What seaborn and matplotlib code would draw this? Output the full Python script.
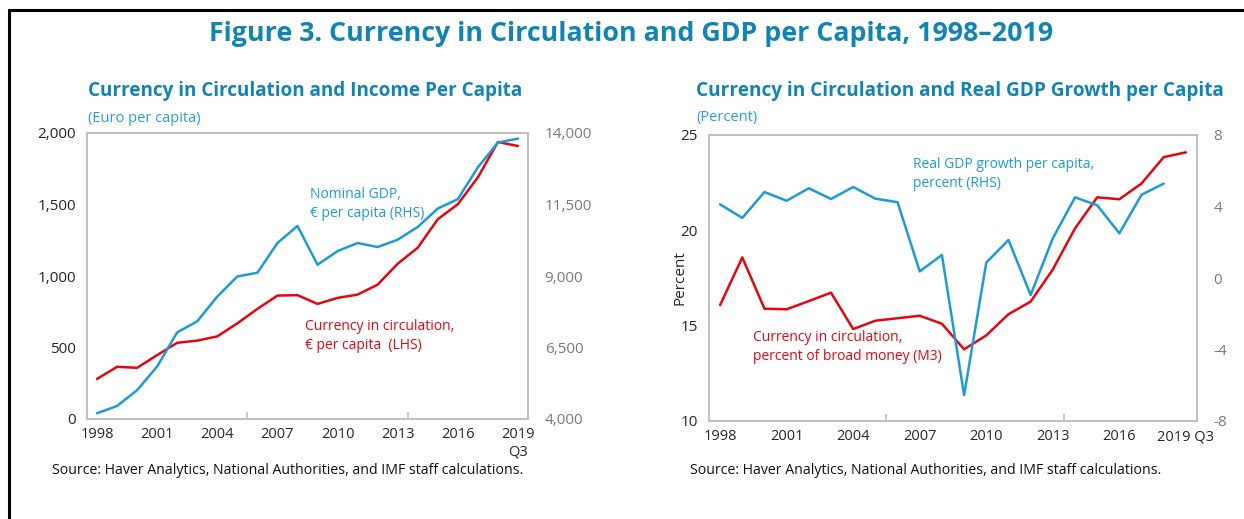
import numpy as np
import pandas as pd
import matplotlib
matplotlib.use("Agg")
import matplotlib.pyplot as plt
from matplotlib.lines import Line2D
import seaborn as sns

# ---------------- data ----------------
years = ["1998", "1999", "2000", "2001", "2002", "2003", "2004", "2005", "2006", "2007",
         "2008", "2009", "2010", "2011", "2012", "2013", "2014", "2015", "2016", "2017",
         "2018", "2019 Q3"]
tick_years_left = ["1998", "2001", "2004", "2007", "2010", "2013", "2016", "2019\nQ3"]
tick_years_right = ["1998", "2001", "2004", "2007", "2010", "2013", "2016", "2019 Q3"]

# Left panel
currency_pc = [280, 365, 358, 447, 533, 548, 578, 669, 770, 863, 866, 805, 847, 870,
               940, 1086, 1198, 1397, 1502, 1690, 1937, 1909]
nominal_gdp_pc = [4200, 4456, 5007, 5836, 7030, 7416, 8282, 8984, 9113, 10153, 10750,
                  9394, 9872, 10153, 10013, 10270, 10715, 11360, 11687, 12800, 13664, 13805]

# Right panel
currency_m3 = [16.08, 18.58, 15.89, 15.86, 16.29, 16.73, 14.82, 15.26, 15.39, 15.52, 15.10,
               13.76, 14.49, 15.60, 16.26, 17.95, 20.10, 21.73, 21.63, 22.46, 23.84, 24.09]
real_gdp_growth = [4.12, 3.36, 4.81, 4.32, 5.02, 4.42, 5.09, 4.44, 4.24, 0.37, 1.29,
                   -6.55, 0.86, 2.13, -0.95, 2.22, 4.51, 4.07, 2.50, 4.66, 5.28, np.nan]

left_ticks = [0, 500, 1000, 1500, 2000]
left_rhs_ticks = [4000, 6500, 9000, 11500, 14000]
right_ticks = [10, 15, 20, 25]
right_rhs_ticks = [-8, -4, 0, 4, 8]

# ---------------- style ----------------
sns.set_theme(style="white")
plt.rcParams["font.family"] = ["Open Sans", "DejaVu Sans"]
plt.rcParams["axes.unicode_minus"] = False

BLUE = "#1f9ad6"
RED = "#e30613"
TITLE = "#1284b4"
SUB = "#2a9fd6"
SPINE = "#c0c0c0"
DARK = "#262626"
GREY = "#7a7a7a"

W, H = 1244, 519
fig = plt.figure(figsize=(W / 100, H / 100), dpi=100)

def fx(x):
    return x / W

def fy(y):
    return 1 - y / H

idx = np.arange(len(years))
df = pd.DataFrame({"idx": idx, "currency_pc": currency_pc, "nominal_gdp_pc": nominal_gdp_pc,
                   "currency_m3": currency_m3, "real_gdp_growth": real_gdp_growth})
tick_pos = list(range(0, len(years), 3))


def style_axes(ax, twin, labels, lticks, rticks, lcolor, rcolor):
    for a in (ax, twin):
        for s in a.spines.values():
            s.set_color(SPINE)
            s.set_linewidth(1.2)
    ax.set_xlim(-0.5, len(years) - 0.5)
    ax.set_xticks(tick_pos)
    ax.set_xticklabels(labels)
    ax.set_xticks([7.5, 15.5], minor=True)
    ax.tick_params(axis="x", which="major", length=0, labelsize=10.5, labelcolor=DARK, pad=6)
    ax.tick_params(axis="x", which="minor", length=5, direction="in", color=SPINE, width=1.2, bottom=True)
    ax.set_yticks(lticks)
    ax.tick_params(axis="y", length=0, labelsize=11, labelcolor=lcolor, pad=8)
    twin.set_yticks(rticks)
    twin.tick_params(axis="y", length=0, labelsize=11, labelcolor=rcolor, pad=12)
    ax.set_xlabel("")
    ax.set_ylabel("")
    twin.set_ylabel("")


# ---------------- left panel ----------------
axL = fig.add_axes([fx(87), fy(419), fx(528 - 87), (419 - 133) / H])
axL2 = axL.twinx()
sns.lineplot(data=df, x="idx", y="currency_pc", ax=axL, color=RED, linewidth=1.8)
sns.lineplot(data=df, x="idx", y="nominal_gdp_pc", ax=axL2, color=BLUE, linewidth=1.8)
axL.set_ylim(0, 2000)
axL2.set_ylim(4000, 14000)
axL.yaxis.set_major_formatter(matplotlib.ticker.FuncFormatter(lambda v, p: f"{int(v):,}"))
axL2.yaxis.set_major_formatter(matplotlib.ticker.FuncFormatter(lambda v, p: f"{int(v):,}"))
style_axes(axL, axL2, tick_years_left, left_ticks, left_rhs_ticks, DARK, GREY)

# ---------------- right panel ----------------
axR = fig.add_axes([fx(709), fy(421), fx(1197 - 709), (421 - 135) / H])
axR2 = axR.twinx()
sns.lineplot(data=df, x="idx", y="currency_m3", ax=axR, color=RED, linewidth=1.8)
sns.lineplot(data=df.dropna(), x="idx", y="real_gdp_growth", ax=axR2, color=BLUE, linewidth=1.8)
axR.set_ylim(10, 25)
axR2.set_ylim(-8, 8)
style_axes(axR, axR2, tick_years_right, right_ticks, right_rhs_ticks, DARK, GREY)
axR.set_ylabel("Percent", fontsize=11, color=DARK, labelpad=-5)

# ---------------- texts ----------------
fig.text(fx(631), fy(34), "Figure 3. Currency in Circulation and GDP per Capita, 1998\u20132019",
         ha="center", va="center", fontsize=19.3, fontweight="bold", color=TITLE)
fig.text(fx(88), fy(91), "Currency in Circulation and Income Per Capita",
         ha="left", va="center", fontsize=13.6, fontweight="bold", color=TITLE)
fig.text(fx(696), fy(91), "Currency in Circulation and Real GDP Growth per Capita",
         ha="left", va="center", fontsize=13.7, fontweight="bold", color=TITLE)
fig.text(fx(88), fy(118), "(Euro per capita)", ha="left", va="center", fontsize=10.5, color=SUB)
fig.text(fx(696), fy(118), "(Percent)", ha="left", va="center", fontsize=10.5, color=SUB)

fig.text(fx(310), fy(204), "Nominal GDP,\n\u20ac per capita (RHS)", ha="left", va="center",
         fontsize=10, color=BLUE, linespacing=1.4)
fig.text(fx(305), fy(336), "Currency in circulation,\n\u20ac per capita  (LHS)", ha="left", va="center",
         fontsize=10, color=RED, linespacing=1.4)
fig.text(fx(913), fy(174), "Real GDP growth per capita,\npercent (RHS)", ha="left", va="center",
         fontsize=10, color=BLUE, linespacing=1.4)
fig.text(fx(753), fy(347), "Currency in circulation,\npercent of broad money (M3)", ha="left", va="center",
         fontsize=10, color=RED, linespacing=1.4)

src = "Source: Haver Analytics, National Authorities, and IMF staff calculations."
fig.text(fx(52), fy(470), src, ha="left", va="center", fontsize=10.2, color="#111111")
fig.text(fx(690), fy(470), src, ha="left", va="center", fontsize=10.2, color="#111111")

# figure frame (top and left edges)
fig.add_artist(Line2D([fx(9), fx(9)], [0, fy(10)], color="black", linewidth=2.2))
fig.add_artist(Line2D([fx(9), 1], [fy(10), fy(10)], color="black", linewidth=2.2))

fig.savefig("out.png", dpi=100)
